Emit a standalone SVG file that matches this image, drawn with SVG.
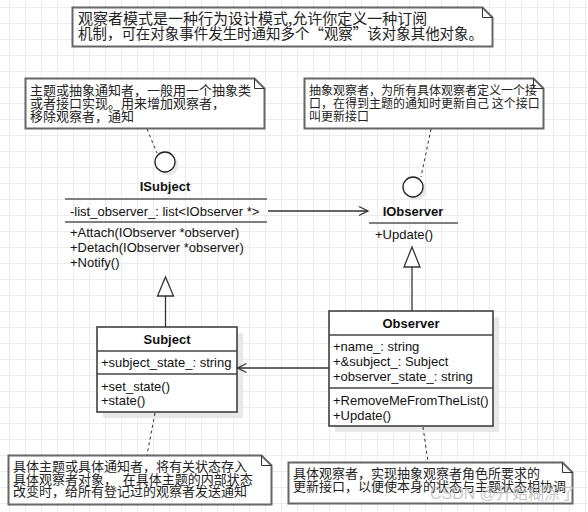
<svg xmlns="http://www.w3.org/2000/svg" width="588" height="512" viewBox="0 0 588 512">
<style>
.note{fill:#fff;stroke:#666;stroke-width:2}
.fold{fill:none;stroke:#333;stroke-width:1}
.cjk{font-family:"Noto Sans CJK SC","Noto Sans",sans-serif;font-size:13px;fill:#222}
.big{font-size:15px}
.sm{font-size:12px}
.t{font-family:"Liberation Sans",Arial,sans-serif;font-size:13px;fill:#111}
.b{font-weight:bold;text-anchor:middle}
.box{fill:#fff;stroke:#333;stroke-width:1.5}
.sep{stroke:#444;stroke-width:1.5}
.isep{stroke:#808080;stroke-width:2}
.shadow{fill:#e8e8e8}
.circ{fill:#fff;stroke:#222;stroke-width:1.3}
.dash{fill:none;stroke:#333;stroke-width:1;stroke-dasharray:3 3}
.line{fill:none;stroke:#333;stroke-width:1.3}
.tri{fill:#fff;stroke:#333;stroke-width:1.3}
</style>
<defs>
<pattern id="grid" patternUnits="userSpaceOnUse" x="9" y="7" width="16" height="16">
<rect x="0" y="0" width="16" height="1" fill="#ececec"/>
<rect x="0" y="0" width="1" height="16" fill="#ececec"/>
</pattern>
<marker id="open" markerWidth="12" markerHeight="12" refX="10" refY="6" orient="auto" markerUnits="userSpaceOnUse">
<path d="M1,1.5 L10,6 L1,10.5" fill="none" stroke="#333" stroke-width="1.3"/>
</marker>
</defs>
<rect width="588" height="512" fill="#fff"/>
<rect width="588" height="512" fill="url(#grid)"/>

<g id="note-top">
<path class="note" d="M72.5,7.5 H482.5 L492.5,17.5 V46.5 H72.5 Z"/>
<path class="fold" d="M482.5,7.5 V17.5 H492.5"/>
<text class="cjk big" x="78" y="24">观察者模式是一种行为设计模式,允许你定义一种订阅</text>
<text class="cjk big" x="78" y="38.5" textLength="405" lengthAdjust="spacingAndGlyphs">机制，可在对象事件发生时通知多个“观察”该对象其他对象。</text>
</g>

<g id="note-isubject">
<path class="note" d="M25.5,78.5 H254.5 L264.5,88.5 V128.5 H25.5 Z"/>
<path class="fold" d="M254.5,78.5 V88.5 H264.5"/>
<text class="cjk" x="30" y="95">主题或抽象通知者，一般用一个抽象类</text>
<text class="cjk" x="30" y="108">或者接口实现。用来增加观察者，</text>
<text class="cjk" x="30" y="121">移除观察者，通知</text>
</g>

<g id="note-iobserver">
<path class="note" d="M304.5,78.5 H533.5 L543.5,88.5 V128.5 H304.5 Z"/>
<path class="fold" d="M533.5,78.5 V88.5 H543.5"/>
<text class="cjk sm" x="309" y="95">抽象观察者，为所有具体观察者定义一个接</text>
<text class="cjk sm" x="309" y="108">口，在得到主题的通知时更新自己 这个接口</text>
<text class="cjk sm" x="309" y="121">叫更新接口</text>
</g>

<g id="note-subject">
<path class="note" d="M8.5,455.5 H261.5 L271.5,465.5 V504.5 H8.5 Z"/>
<path class="fold" d="M261.5,455.5 V465.5 H271.5"/>
<text class="cjk" x="13" y="471" textLength="234">具体主题或具体通知者，将有关状态存入</text>
<text class="cjk" x="13" y="483.5" xml:space="preserve">具体观察者对象，  在具体主题的内部状态</text>
<text class="cjk" x="13" y="496">改变时，给所有登记过的观察者发送通知</text>
</g>

<g id="note-observer">
<path class="note" d="M288.5,462.5 H562.5 L572.5,472.5 V503.5 H288.5 Z"/>
<path class="fold" d="M562.5,462.5 V472.5 H572.5"/>
<text class="cjk" x="293" y="478">具体观察者，实现抽象观察者角色所要求的</text>
<text class="cjk" x="293" y="491">更新接口，以便使本身的状态与主题状态相协调</text>
</g>

<g id="ISubject">
<circle class="shadow" cx="168" cy="165" r="10.5"/>
<circle class="circ" cx="165" cy="162" r="10"/>
<text class="t b" x="165" y="190.5">ISubject</text>
<line class="isep" x1="65" y1="199" x2="267" y2="199"/>
<text class="t" x="70" y="215.5">-list_observer_: list&lt;IObserver *&gt;</text>
<line class="isep" x1="65" y1="222" x2="267" y2="222"/>
<text class="t" x="70" y="237">+Attach(IObserver *observer)</text>
<text class="t" x="70" y="252">+Detach(IObserver *observer)</text>
<text class="t" x="70" y="267">+Notify()</text>
</g>

<g id="IObserver">
<circle class="shadow" cx="416" cy="190" r="10.5"/>
<circle class="circ" cx="413" cy="187" r="10"/>
<text class="t b" x="413" y="215.5">IObserver</text>
<line class="isep" x1="369" y1="223" x2="458" y2="223"/>
<text class="t" x="375" y="238.5">+Update()</text>
</g>

<g id="Subject">
<rect class="shadow" x="103" y="333" width="140" height="85"/>
<rect class="box" x="97" y="327" width="140" height="85"/>
<text class="t b" x="167" y="344">Subject</text>
<line class="sep" x1="97" y1="351" x2="237" y2="351"/>
<text class="t" x="101" y="367">+subject_state_: string</text>
<line class="sep" x1="97" y1="374" x2="237" y2="374"/>
<text class="t" x="101" y="390.5">+set_state()</text>
<text class="t" x="101" y="405">+state()</text>
</g>

<g id="Observer">
<rect class="shadow" x="335" y="317" width="164" height="115"/>
<rect class="box" x="329" y="311" width="164" height="115"/>
<text class="t b" x="411" y="327.5">Observer</text>
<line class="sep" x1="329" y1="335" x2="493" y2="335"/>
<text class="t" x="333" y="351">+name_: string</text>
<text class="t" x="333" y="365.5">+&amp;subject_: Subject</text>
<text class="t" x="333" y="381">+observer_state_: string</text>
<line class="sep" x1="329" y1="388" x2="493" y2="388"/>
<text class="t" x="333" y="404.5">+RemoveMeFromTheList()</text>
<text class="t" x="333" y="419.5">+Update()</text>
</g>

<g id="connectors">
<line class="dash" x1="147" y1="129" x2="157" y2="153"/>
<line class="dash" x1="431" y1="129" x2="421" y2="177"/>
<line class="dash" x1="155" y1="413" x2="147" y2="455"/>
<line class="dash" x1="423" y1="427" x2="428" y2="462"/>
<line class="line" x1="268" y1="211" x2="368" y2="211" marker-end="url(#open)"/>
<line class="line" x1="329" y1="368" x2="237.5" y2="368" marker-end="url(#open)"/>
<line class="line" x1="165.5" y1="296" x2="165.5" y2="327"/>
<path class="tri" d="M165.5,277 L173.5,296 H157.5 Z"/>
<line class="line" x1="412" y1="267" x2="412" y2="311"/>
<path class="tri" d="M412,247 L420,267 H404 Z"/>
</g>

<text x="430" y="499" font-family="'Liberation Sans','Noto Sans CJK SC',sans-serif" font-size="16" fill="#bdbdbd" fill-opacity="0.85">CSDN @开始糊涂了</text>
</svg>
